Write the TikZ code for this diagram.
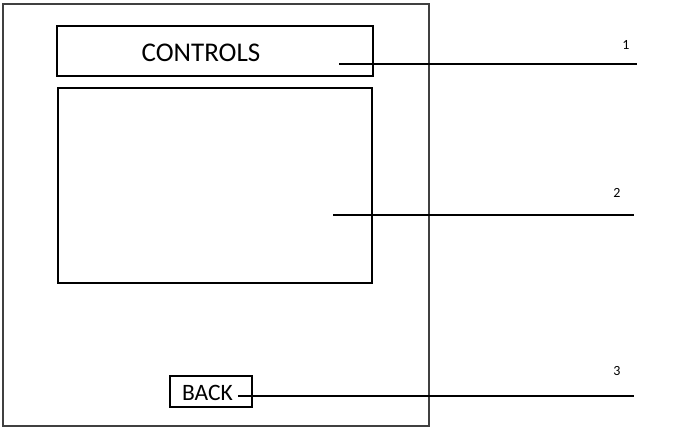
\documentclass[tikz,border=0pt]{standalone}
\usepackage{fontspec}
\setmainfont{Carlito}
\begin{document}
\begin{tikzpicture}[x=1pt,y=-1pt,
  box/.style={draw=black,line width=2pt,inner sep=0pt},
  leader/.style={draw=black,line width=1.8pt},
  num/.style={font=\fontsize{14}{16}\selectfont,inner sep=0pt}]
\useasboundingbox (0,0) rectangle (677,433);
\draw[draw=black!75,line width=1.6pt] (3,4) rectangle (429,426);
\node[box,minimum width=316pt,minimum height=50pt] (controls) at (215,51) {};
\node[inner sep=0pt,font=\fontsize{27}{30}\selectfont] (controlstext) at (201,53) {CONTROLS};
\node[box,minimum width=314pt,minimum height=195pt] (panel) at (215,185.5) {};
\node[box,minimum width=82pt,minimum height=31pt] (back) at (211,391.5) {};
\node[inner sep=0pt,font=\fontsize{23.5}{26}\selectfont] (backtext) at (207.5,392.5) {BACK};
\coordinate (s1) at (339,64);
\coordinate (e1) at (637,64);
\coordinate (s2) at (333,215);
\coordinate (e2) at (634,215);
\coordinate (s3) at (238,396);
\coordinate (e3) at (634,396);
\draw[leader] (s1) -- (e1);
\draw[leader] (s2) -- (e2);
\draw[leader] (s3) -- (e3);
\node[num] (n1) at (626,45) {1};
\node[num] (n2) at (617,193) {2};
\node[num] (n3) at (617,371) {3};
\end{tikzpicture}
\end{document}
